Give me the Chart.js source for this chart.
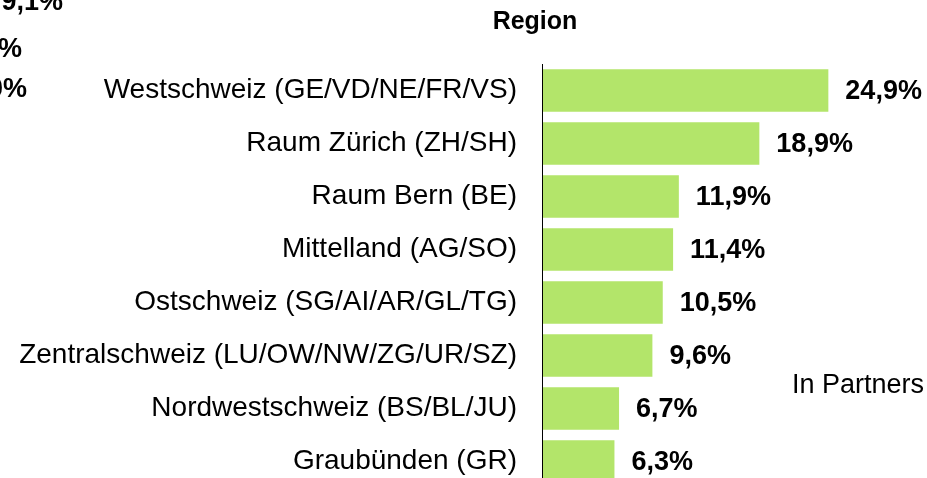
<!DOCTYPE html>
<html>
<head>
<meta charset="utf-8">
<script src="https://cdn.jsdelivr.net/npm/chart.js@4/dist/chart.umd.min.js"></script>
<style>
  html, body { margin: 0; padding: 0; background: #fff; overflow: hidden; }
  #wrap { position: absolute; left: 0; top: 0; width: 927px; height: 488px; }
  #barChart { display: block; width: 927px; height: 488px; }
</style>
</head>
<body>
<div id="wrap"><canvas id="barChart" width="927" height="488"></canvas></div>
<script>
// Region shares (in %)
var regions = [
    "Westschweiz (GE/VD/NE/FR/VS)",
    "Raum Zürich (ZH/SH)",
    "Raum Bern (BE)",
    "Mittelland (AG/SO)",
    "Ostschweiz (SG/AI/AR/GL/TG)",
    "Zentralschweiz (LU/OW/NW/ZG/UR/SZ)",
    "Nordwestschweiz (BS/BL/JU)",
    "Graubünden (GR)"
];
var shares = [24.9, 18.9, 11.9, 11.4, 10.5, 9.6, 6.7, 6.3];
var chartTitle = "Region";
var sideNote = "In Partners";
// bits of the neighbouring chart that stick into the picture
var leftovers = ["9,1%", "%", "0%"];

var FONT = "'Liberation Sans', Arial, sans-serif";

var labelPlugin = {
    id: 'extraText',
    afterDatasetsDraw: function(chart) {
        var ctx = chart.ctx;
        var meta = chart.getDatasetMeta(0);
        ctx.save();
        ctx.fillStyle = '#000';
        ctx.font = 'bold 27px ' + FONT;
        ctx.textAlign = 'left';
        ctx.textBaseline = 'middle';
        meta.data.forEach(function(bar, i) {
            var txt = shares[i].toFixed(1).replace('.', ',') + '%';
            ctx.fillText(txt, bar.x + 17, bar.y + 1);
        });

        // title
        ctx.font = 'bold 25px ' + FONT;
        ctx.textAlign = 'center';
        ctx.textBaseline = 'alphabetic';
        ctx.fillText(chartTitle, 535, 29);

        // note on the right
        ctx.font = '27px ' + FONT;
        ctx.textAlign = 'left';
        ctx.fillText(sideNote, 792, 393);

        // cut off values at the left edge
        ctx.font = 'bold 27px ' + FONT;
        ctx.textAlign = 'right';
        ctx.fillText(leftovers[0], 63, 10);
        ctx.fillText(leftovers[1], 22, 57);
        ctx.fillText(leftovers[2], 27, 97);
        ctx.restore();
    }
};

var ctx = document.getElementById('barChart').getContext('2d');
new Chart(ctx, {
    type: 'bar',
    data: {
        labels: regions,
        datasets: [
            {
                label: chartTitle,
                backgroundColor: "rgb(179, 229, 106)",
                data: shares,
                categoryPercentage: 0.8,
                barPercentage: 1.0
            }
        ]
    },
    options: {
        indexAxis: 'y',
        responsive: false,
        maintainAspectRatio: false,
        animation: false,
        layout: { padding: { top: 64, right: 40, bottom: 0, left: 0 } },
        plugins: {
            legend: { display: false },
            tooltip: { enabled: false }
        },
        scales: {
            x: {
                display: false,
                min: 0,
                max: 30
            },
            y: {
                afterFit: function(scale) {
                    scale.width = 542;
                    scale.paddingTop = 0;
                    scale.paddingBottom = 0;
                },
                grid: { display: false, drawTicks: false },
                border: { display: true, color: '#000', width: 1, z: 1 },
                ticks: {
                    color: '#000',
                    padding: 25,
                    font: { family: FONT, size: 28 }
                }
            }
        }
    },
    plugins: [labelPlugin]
});
</script>
</body>
</html>
